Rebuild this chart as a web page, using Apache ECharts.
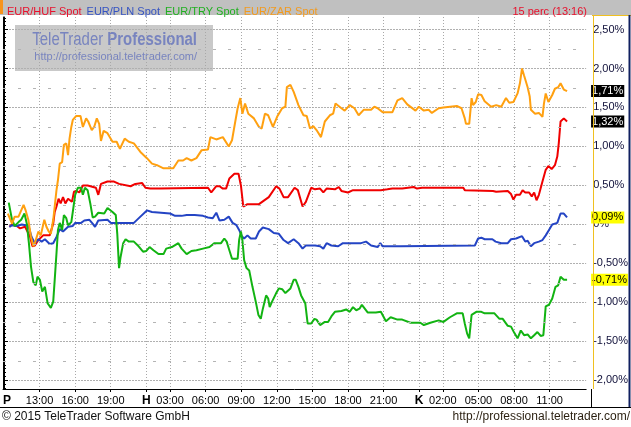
<!DOCTYPE html>
<html><head><meta charset="utf-8">
<script src="https://cdn.jsdelivr.net/npm/echarts@6/dist/echarts.min.js"></script>
<style>html,body{margin:0;padding:0;background:#fff}#c{width:631px;height:427px}</style>
</head><body><div id="c"></div>
<script>
// x = 15-minute bar index (compressed session time, bar 0 = Fri 10:00), y = % change
const names = ['EUR/HUF Spot','EUR/PLN Spot','EUR/TRY Spot','EUR/ZAR Spot'];
const colors = ['#f00000','#2444c4','#12b312','#ffa010'];
const legendColors = ['#e8102c','#3553c2','#21b021','#f29a1e'];

const huf = [[1.8,-0.03],[2.7,0],[4.3,-0.02],[5.4,-0.05],[7.1,-0.03],[8.8,-0.16],[9.6,-0.28],[10.4,-0.27],[11.6,-0.2],[13.2,-0.14],[15.4,-0.14],[16.6,0.01],[17.1,0.16],[17.7,0.23],[18.4,0.33],[19.1,0.27],[19.9,0.35],[20.7,0.27],[21.6,0.33],[22.9,0.29],[23.6,0.42],[24.3,0.43],[25.4,0.41],[26.6,0.5],[28.2,0.5],[31,0.47],[31.8,0.38],[32.7,0.52],[34.9,0.55],[37.1,0.55],[38.8,0.52],[42.7,0.49],[44.3,0.52],[46.6,0.53],[47.7,0.47],[49.3,0.46],[52.7,0.46],[53.2,0.47],[68.8,0.47],[69.9,0.41],[71.6,0.49],[72.7,0.49],[73.8,0.46],[74.9,0.46],[76,0.59],[77.7,0.65],[79.1,0.65],[79.9,0.5],[80.7,0.23],[82.1,0.26],[86,0.26],[89.3,0.35],[91.8,0.49],[92.9,0.46],[94.3,0.35],[95.8,0.35],[98,0.47],[99.1,0.44],[100.7,0.23],[101.8,0.29],[103.6,0.47],[104.9,0.45],[106.6,0.46],[107.7,0.41],[108.8,0.46],[111.6,0.45],[112.9,0.48],[113.8,0.43],[116,0.41],[117.7,0.44],[127.1,0.44],[127.7,0.42],[129.3,0.45],[131,0.46],[134.3,0.46],[138.2,0.48],[139.3,0.46],[141,0.47],[154.9,0.47],[155.4,0.44],[164.9,0.43],[166,0.42],[169.9,0.43],[171,0.39],[171.8,0.32],[172.7,0.38],[174,0.38],[174.9,0.44],[175.8,0.41],[177.1,0.41],[178,0.36],[178.8,0.41],[179.6,0.31],[180.4,0.38],[181.6,0.55],[182.7,0.7],[183.6,0.75],[184.7,0.71],[185.8,0.76],[186.6,0.87],[187.1,1.04],[187.7,1.32],[188.8,1.36],[189.9,1.32]];

const pln = [[1.8,-0.03],[2.7,-0.01],[4.3,-0.02],[6,0],[7.3,-0.01],[8.2,-0.01],[9.3,-0.16],[10.4,-0.24],[11.6,-0.19],[12.7,-0.22],[13.8,-0.19],[15.4,-0.25],[16.6,-0.24],[17.7,-0.16],[18.8,-0.06],[19.9,-0.09],[21.6,-0.03],[23.2,-0.02],[24,0.02],[26,0.02],[27.1,0.05],[28.8,0.06],[29.9,0.01],[30.7,-0.03],[31.8,0.05],[34.9,0.06],[36,0.02],[43.8,0.02],[46,0.1],[48.2,0.18],[49.9,0.16],[50.4,0.14],[56,0.14],[57.7,0.11],[59.9,0.11],[61.6,0.12],[64.3,0.12],[67.1,0.11],[68.8,0.09],[70.4,0.08],[71.6,0.15],[72.7,0.05],[74.3,0.06],[75.8,0.1],[77.1,0.02],[78.4,-0.01],[79.3,-0.07],[80.2,-0.15],[81,-0.18],[82.1,-0.14],[83.2,-0.18],[84.9,-0.18],[86,-0.09],[87.3,-0.04],[89.3,-0.06],[91,-0.11],[92.7,-0.12],[94.3,-0.2],[95.8,-0.24],[97.7,-0.19],[99.3,-0.24],[100.7,-0.31],[101.8,-0.27],[104.9,-0.27],[106.6,-0.28],[107.7,-0.31],[108.8,-0.24],[110.4,-0.27],[112.7,-0.28],[114.3,-0.24],[120.4,-0.24],[122.1,-0.22],[123.8,-0.27],[126,-0.29],[126.9,-0.24],[127.7,-0.28],[133.8,-0.28],[134.3,-0.27],[158.8,-0.27],[159.9,-0.18],[161,-0.17],[162.1,-0.19],[164.7,-0.19],[165.8,-0.22],[167.7,-0.24],[169.9,-0.24],[171,-0.19],[172.7,-0.18],[174.7,-0.15],[175.8,-0.22],[176.6,-0.21],[177.7,-0.28],[178.8,-0.24],[180.4,-0.22],[181.6,-0.2],[182.7,-0.14],[183.8,-0.07],[184.9,0],[186.6,0.02],[187.7,0.14],[188.8,0.14],[189.9,0.09]];

const tryS = [[1.6,0.28],[2.1,0.18],[2.7,0.06],[3.6,-0.02],[4.9,0.03],[5.8,0.06],[6.9,0.14],[7.7,0.01],[8.4,-0.24],[9.1,-0.54],[9.9,-0.74],[10.7,-0.78],[11.3,-0.67],[12.1,-0.71],[12.9,-0.86],[13.8,-0.8],[14.7,-1.01],[15.8,-1.07],[16.6,-0.99],[17.1,-0.71],[17.7,-0.37],[18.2,-0.07],[18.8,0.02],[19.6,-0.07],[20.2,0.12],[21,0.08],[21.6,-0.01],[22.7,0.03],[23.2,0.16],[24,0.38],[24.9,0.47],[26,0.47],[26.6,0.38],[27.3,0.47],[28.2,0.44],[29.1,0.27],[29.9,0.09],[30.7,0.1],[31.8,0.15],[33.8,0.14],[34.9,0.21],[36.6,0.16],[37.7,0.12],[38.2,-0.12],[38.8,-0.56],[39.3,-0.42],[40.2,-0.24],[41,-0.19],[42.1,-0.22],[43.8,-0.22],[45.4,-0.28],[46.9,-0.35],[48,-0.34],[49.1,-0.29],[50.4,-0.33],[52.1,-0.38],[53.8,-0.38],[54.7,-0.31],[56.6,-0.29],[58.8,-0.24],[59.9,-0.31],[61.6,-0.38],[63.2,-0.34],[64.9,-0.33],[67.1,-0.31],[69.3,-0.29],[71,-0.24],[73.2,-0.24],[74.3,-0.18],[75.1,-0.22],[76,-0.33],[76.9,-0.44],[78.8,-0.44],[79.3,-0.2],[79.9,-0.09],[80.4,-0.2],[81,-0.46],[81.8,-0.56],[82.7,-0.59],[83.8,-0.8],[84.9,-0.99],[85.8,-1.16],[86.6,-1.21],[87.3,-1.08],[88.4,-0.91],[89.1,-0.95],[89.6,-1.06],[90.4,-0.99],[91.8,-0.88],[92.7,-0.82],[93.8,-0.83],[94.9,-0.88],[96.6,-0.82],[97.7,-0.71],[98.4,-0.71],[99.3,-0.8],[100.2,-0.91],[101.6,-1.01],[102.4,-1.27],[103.6,-1.27],[104.7,-1.21],[105.4,-1.22],[106.6,-1.29],[108.2,-1.25],[109.3,-1.25],[110.4,-1.18],[111.6,-1.12],[113.8,-1.11],[115.4,-1.09],[116.6,-1.12],[117.7,-1.06],[118.8,-1.1],[119.9,-1.08],[120.7,-1.03],[122.7,-1.13],[125.4,-1.13],[127.1,-1.12],[128.8,-1.24],[130.4,-1.19],[132.7,-1.22],[134.3,-1.22],[137.1,-1.26],[140.4,-1.26],[141.6,-1.29],[143.8,-1.26],[146.6,-1.23],[148.2,-1.25],[150.4,-1.19],[152.7,-1.14],[154.7,-1.14],[155.4,-1.27],[156.2,-1.4],[156.9,-1.46],[157.7,-1.16],[159.3,-1.12],[161,-1.12],[162.1,-1.14],[165.4,-1.14],[167.1,-1.21],[168.2,-1.21],[169.9,-1.3],[171,-1.31],[172.1,-1.39],[173.2,-1.46],[174.3,-1.36],[175.4,-1.42],[176.6,-1.41],[177.7,-1.46],[178.8,-1.42],[179.9,-1.38],[181,-1.43],[181.9,-1.42],[182.7,-1.05],[183.8,-1.03],[184.9,-0.95],[186,-0.8],[186.9,-0.78],[187.7,-0.67],[188.8,-0.71],[189.9,-0.71]];

const zar = [[1.3,0.14],[2.7,0.01],[3.6,0.1],[4.9,0.1],[6.6,0.25],[7.3,0.18],[8.2,0.06],[9.1,-0.16],[9.9,-0.28],[10.4,-0.24],[11.6,-0.09],[12.4,-0.14],[13.6,0.06],[14.3,-0.03],[15.1,-0.09],[15.8,-0.12],[16.6,0.06],[17.1,0.23],[17.7,0.44],[18.2,0.57],[18.8,0.78],[19.6,0.8],[20.2,1.02],[21,1.04],[21.6,0.89],[22.1,1.1],[22.7,1.25],[23.2,1.34],[24.3,1.39],[25.8,1.39],[26.6,1.25],[27.7,1.36],[28.4,1.32],[29.6,1.21],[30.4,1.25],[31.3,1.36],[32.1,1.29],[32.7,1.07],[33.6,1.2],[34.9,1.17],[36.6,1.06],[38,1.06],[39.1,0.97],[40.7,1.1],[42.1,1.06],[43.8,1.04],[46,0.93],[48.2,0.85],[49.9,0.78],[51.6,0.76],[53.8,0.72],[57.1,0.72],[58.8,0.82],[60.4,0.82],[61.6,0.85],[63.2,0.82],[64.9,0.85],[66.6,0.95],[68.8,0.96],[69.6,1.12],[71.6,1.09],[73.8,1.12],[75.8,1],[76.9,1.08],[78,1.32],[78.8,1.49],[79.7,1.62],[80.4,1.42],[81.3,1.55],[82.4,1.42],[84.3,1.36],[86,1.25],[86.9,1.23],[88,1.42],[89.1,1.4],[90.7,1.25],[92.1,1.38],[93.8,1.49],[94.9,1.51],[95.4,1.76],[96.6,1.79],[97.7,1.7],[99.3,1.53],[101,1.4],[102.1,1.39],[103.2,1.23],[104.3,1.26],[105.4,1.21],[106.9,1.12],[108.2,1.32],[109.9,1.4],[111,1.42],[111.8,1.55],[113.8,1.49],[114.9,1.46],[116.6,1.53],[118.2,1.49],[119.6,1.4],[121.3,1.47],[123.8,1.47],[124.9,1.51],[126,1.49],[127.7,1.44],[131,1.44],[132.7,1.59],[134.3,1.62],[136,1.54],[138.8,1.46],[139.9,1.51],[141.6,1.46],[143.2,1.47],[144.3,1.43],[146.6,1.49],[148.2,1.5],[152.7,1.52],[154.3,1.49],[155.4,1.36],[155.8,1.29],[156.9,1.29],[157.7,1.62],[158.2,1.53],[159.1,1.57],[159.9,1.67],[161,1.66],[162.1,1.58],[164.3,1.51],[166,1.53],[167.7,1.51],[169.3,1.62],[170.4,1.56],[171.8,1.57],[173.2,1.68],[174,1.81],[174.7,2],[175.4,1.91],[176.6,1.76],[177.3,1.64],[177.7,1.47],[179.1,1.42],[180.4,1.43],[181.6,1.38],[182.1,1.55],[182.7,1.68],[183.6,1.57],[184.9,1.66],[185.8,1.74],[186.9,1.76],[187.7,1.81],[188.8,1.73],[189.9,1.71]];

const seriesData = [huf, pln, tryS, zar];
const tagBg = ['#000000','#ffff00','#ffff00','#000000'];
const tagFg = ['#ffffff','#000000','#000000','#ffffff'];

const xTickPos = [12,24,36,48,56,68,80,92,104,116,128,140,148,160,172,184];
const xTickText = ['13:00','16:00','19:00','H','03:00','06:00','09:00','12:00','15:00','18:00','21:00','K','02:00','05:00','08:00','11:00'];
const firstDayPos = 1, firstDayText = 'P';
const dayLetters = ['P','H','K'];

const yTicks = [-2,-1.5,-1,-0.5,0,0.5,1,1.5,2,2.5];
const yHalfTicks = [-1.75,-1.25,-0.75,-0.25,0.25,0.75,1.25,1.75,2.25];

const headerRight = '15 perc (13:16)';
const copyright = '\u00a9 2015 TeleTrader Software GmbH';
const siteUrl = 'http://professional.teletrader.com/';

const FONT = "'Liberation Sans', Arial, sans-serif";
const labelMap = {};
labelMap[firstDayPos] = firstDayText;
xTickPos.forEach((p, i) => labelMap[p] = xTickText[i]);

function pct(v) {
  if (Math.abs(v) < 1e-9) return '0%';
  return v.toFixed(2).replace('.', ',') + '%';
}

const chart = echarts.init(document.getElementById('c'), null, {renderer: 'canvas'});

const series = names.map((n, i) => ({
  type: 'line', name: n, data: seriesData[i], showSymbol: false, symbol: 'none',
  animation: false, z: 4,
  lineStyle: {width: 2, color: colors[i]}, itemStyle: {color: colors[i]},
  endLabel: {
    show: true, formatter: p => pct(p.value[1]), distance: 24,
    backgroundColor: tagBg[i], color: tagFg[i], padding: [1, 1, 0, 1],
    fontSize: 11, fontFamily: FONT
  }
}));
series.push({
  type: 'line', name: 'grid-half', data: [], z: 2, silent: true, animation: false,
  markLine: {
    silent: true, symbol: ['none', 'none'], animation: false,
    label: {show: false},
    lineStyle: {color: '#b4b4b4', width: 1, type: [3, 12]},
    data: yHalfTicks.map(v => ({yAxis: v}))
  }
});

const WM_FONT = "'Liberation Sans', Arial, sans-serif";

chart.setOption({
  animation: false,
  textStyle: {fontFamily: FONT},
  grid: {left: 1, right: 40, top: 17, bottom: 38, containLabel: false},
  legend: {
    left: -3, top: 1, z: 20, itemWidth: 0, itemHeight: 0, itemGap: 0, selectedMode: false,
    textStyle: {fontSize: 11, fontFamily: FONT},
    data: names.map((n, i) => ({name: n, icon: 'rect', textStyle: {color: legendColors[i]}}))
  },
  title: {
    text: headerRight, right: 39, top: 1, z: 20,
    textStyle: {color: '#e8102c', fontSize: 11, fontWeight: 'normal', fontFamily: FONT}
  },
  xAxis: {
    type: 'value', min: -1/3, max: 589/3, z: 2,
    axisLine: {show: true, onZero: false, lineStyle: {color: '#000', width: 1}},
    axisTick: {show: true, customValues: xTickPos, length: 3, lineStyle: {color: '#000'}},
    axisLabel: {
      customValues: [firstDayPos].concat(xTickPos), margin: 6, color: '#000', fontSize: 11,
      formatter: v => {
        const t = labelMap[v];
        if (t === undefined) return '';
        return dayLetters.indexOf(t) >= 0 ? '{d|' + t + '}' : t;
      },
      rich: {d: {fontWeight: 'bold', fontSize: 12, color: '#000', fontFamily: FONT}}
    },
    splitLine: {show: true, lineStyle: {color: '#a8a8a8', type: [1, 2], width: 1}}
  },
  yAxis: [{
    type: 'value', position: 'right', min: -2.11, max: 2.66, splitNumber: 9, z: 2,
    axisLine: {show: true, lineStyle: {color: '#000'}},
    axisTick: {show: true, customValues: yTicks, length: 4, lineStyle: {color: '#000'}},
    minorTick: {show: true, splitNumber: 10, length: 2, lineStyle: {color: '#000'}},
    axisLabel: {customValues: yTicks, formatter: pct, color: '#10103a', fontSize: 11, margin: 7},
    splitLine: {show: true, lineStyle: {color: '#b0b0b0', type: [2, 1], width: 1}}
  }, {
    type: 'value', position: 'left', min: -2.11, max: 2.66, splitNumber: 9, z: 2,
    axisLine: {show: true, lineStyle: {color: '#000'}},
    axisTick: {show: true, inside: true, customValues: yTicks, length: 4, lineStyle: {color: '#000'}},
    minorTick: {show: true, splitNumber: 8, length: 2, lineStyle: {color: '#000'}},
    axisLabel: {show: false},
    splitLine: {show: false}
  }],
  series: series,
  graphic: {elements: [
    {type: 'rect', z: 5, shape: {x: 0, y: 0, width: 631, height: 15}, style: {fill: '#c0c0c0'}},
    {type: 'rect', z: 6, shape: {x: 0, y: 0, width: 3, height: 14}, style: {fill: '#f7941d'}},
    {type: 'rect', z: 0, shape: {x: 15, y: 25, width: 198, height: 46}, style: {fill: '#c9c9c9'}},
    {type: 'text', z: 0, x: 197, y: 40, scaleX: 0.83, style: {
      text: '{a|TeleTrader }{b|Professional}', align: 'right', verticalAlign: 'middle',
      rich: {
        a: {fontSize: 18, fontFamily: WM_FONT, fill: '#7884bf', color: '#7884bf'},
        b: {fontSize: 18, fontWeight: 'bold', fontFamily: WM_FONT, fill: '#7884bf', color: '#7884bf'}
      }}},
    {type: 'text', z: 0, x: 197, y: 57, style: {
      text: siteUrl, align: 'right', verticalAlign: 'middle', fill: '#7884bf',
      font: "11px 'Liberation Sans', Arial, sans-serif"}},
    {type: 'line', z: 5, shape: {x1: 592, y1: 15.5, x2: 631, y2: 15.5}, style: {stroke: '#f0c020', lineWidth: 1}},
    {type: 'line', z: 5, shape: {x1: 593.5, y1: 15, x2: 593.5, y2: 389}, style: {stroke: '#f0c020', lineWidth: 1}},
    {type: 'line', z: 5, shape: {x1: 629.5, y1: 15, x2: 629.5, y2: 407}, style: {stroke: '#102060', lineWidth: 2}},
    {type: 'line', z: 5, shape: {x1: 0, y1: 407.5, x2: 631, y2: 407.5}, style: {stroke: '#000', lineWidth: 1}},
    {type: 'line', z: 5, shape: {x1: 591.5, y1: 389, x2: 591.5, y2: 407}, style: {stroke: '#000', lineWidth: 1}},
    {type: 'text', z: 5, x: 2, y: 417, style: {
      text: copyright, align: 'left', verticalAlign: 'middle', fill: '#111',
      font: "12px 'Liberation Sans', Arial, sans-serif"}},
    {type: 'text', z: 5, x: 630, y: 417, style: {
      text: siteUrl, align: 'right', verticalAlign: 'middle', fill: '#2a1f10',
      font: "12px 'Liberation Sans', Arial, sans-serif"}}
  ]}
});
</script>
</body></html>
